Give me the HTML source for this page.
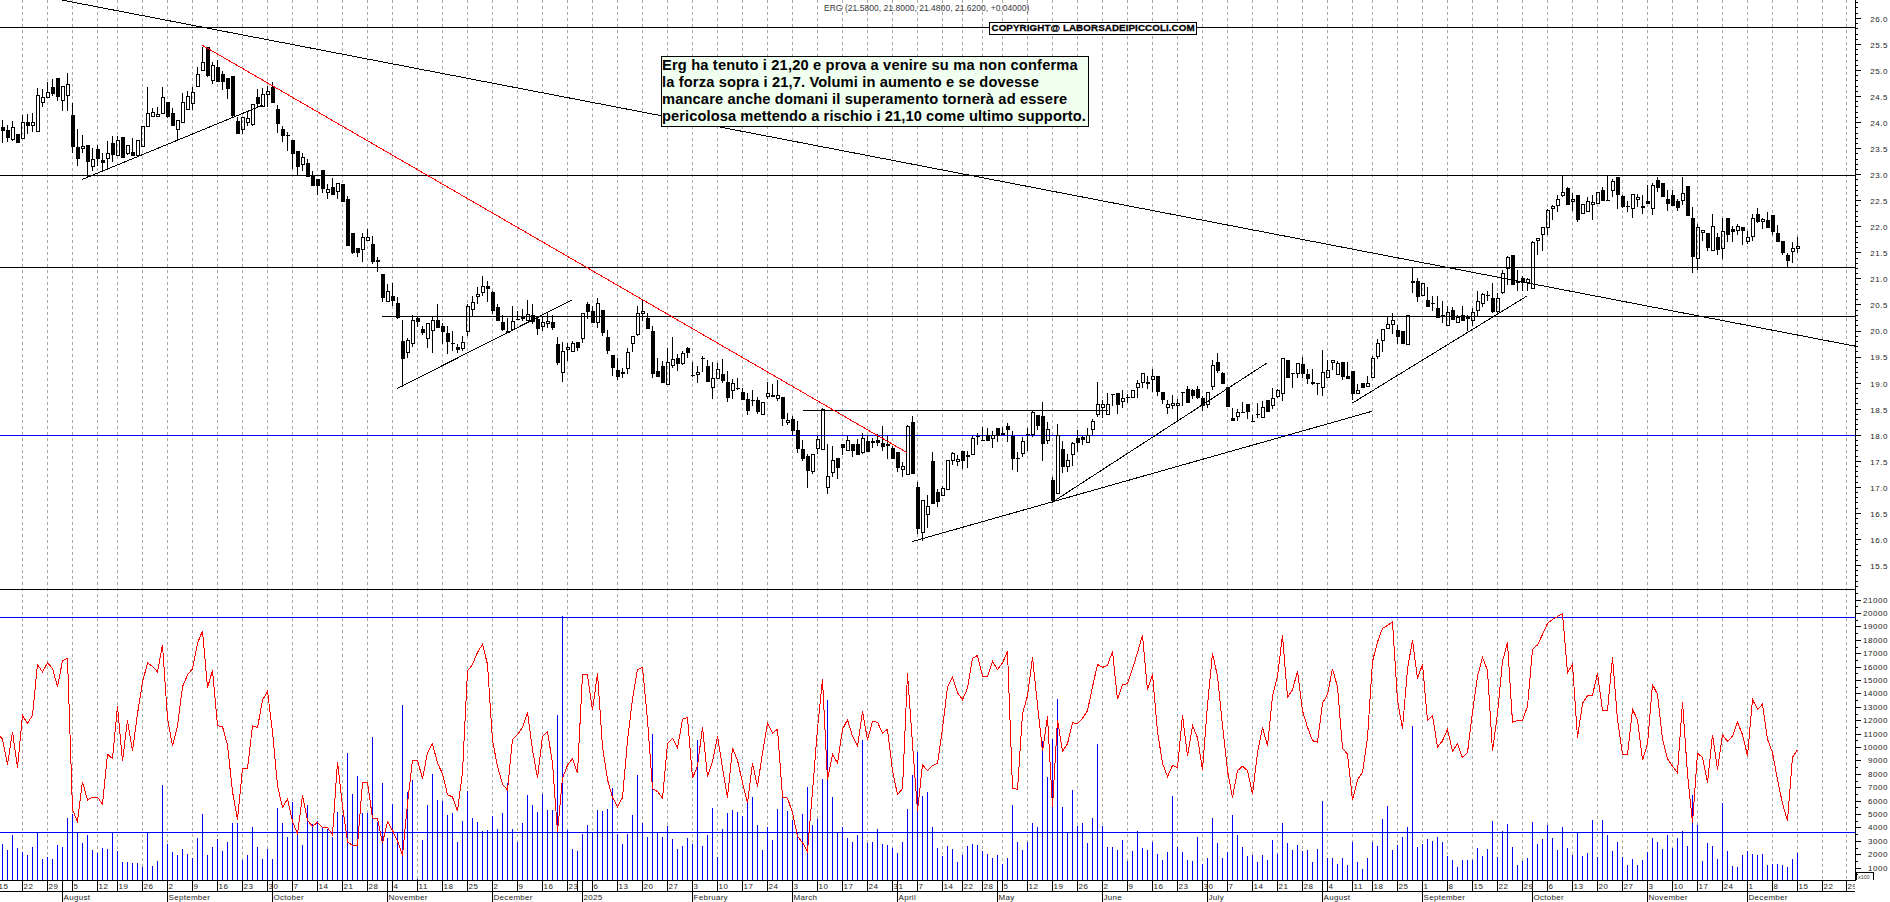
<!DOCTYPE html>
<html><head><meta charset="utf-8"><title>ERG</title>
<style>
html,body{margin:0;padding:0;background:#fff;}
body{width:1890px;height:902px;position:relative;overflow:hidden;font-family:"Liberation Sans",sans-serif;}
#title{position:absolute;left:824px;top:2.5px;font-size:8.5px;line-height:10px;color:#383838;white-space:nowrap;letter-spacing:0.03px;}
#copy{position:absolute;left:989px;top:22px;width:204.5px;height:11px;border:1px solid #000;background:#fff;font-size:9.8px;line-height:11px;font-weight:bold;color:#000;white-space:nowrap;letter-spacing:0.08px;padding-left:1.5px;box-sizing:content-box;overflow:hidden;-webkit-text-stroke:0.3px #000;}
#note{position:absolute;left:661px;top:56px;width:426px;height:69px;border:1px solid #000;background:#f0fff0;font-size:14.67px;line-height:17.15px;font-weight:bold;color:#000;white-space:nowrap;padding:0;box-sizing:content-box;overflow:hidden;}
#l1{letter-spacing:0.165px}#l2{letter-spacing:0.14px}#l3{letter-spacing:0.147px}#l4{letter-spacing:0.09px}#nw{margin-top:0px}#cs{position:relative;top:-1px}
</style></head><body>
<svg width="1890" height="902" viewBox="0 0 1890 902" style="position:absolute;left:0;top:0">
<defs><clipPath id="cl"><rect x="0" y="880" width="1855" height="22"/></clipPath></defs>
<rect width="1890" height="902" fill="#fff"/>
<g stroke="#a8a8a8" stroke-width="1" stroke-dasharray="3 3" shape-rendering="crispEdges">
<line x1="22.5" y1="0" x2="22.5" y2="880"/>
<line x1="47.5" y1="0" x2="47.5" y2="880"/>
<line x1="72.5" y1="0" x2="72.5" y2="880"/>
<line x1="97.5" y1="0" x2="97.5" y2="880"/>
<line x1="117.5" y1="0" x2="117.5" y2="880"/>
<line x1="142.5" y1="0" x2="142.5" y2="880"/>
<line x1="167.5" y1="0" x2="167.5" y2="880"/>
<line x1="192.5" y1="0" x2="192.5" y2="880"/>
<line x1="217.5" y1="0" x2="217.5" y2="880"/>
<line x1="242.5" y1="0" x2="242.5" y2="880"/>
<line x1="267.5" y1="0" x2="267.5" y2="880"/>
<line x1="292.5" y1="0" x2="292.5" y2="880"/>
<line x1="317.5" y1="0" x2="317.5" y2="880"/>
<line x1="342.5" y1="0" x2="342.5" y2="880"/>
<line x1="367.5" y1="0" x2="367.5" y2="880"/>
<line x1="392.5" y1="0" x2="392.5" y2="880"/>
<line x1="417.5" y1="0" x2="417.5" y2="880"/>
<line x1="442.5" y1="0" x2="442.5" y2="880"/>
<line x1="467.5" y1="0" x2="467.5" y2="880"/>
<line x1="492.5" y1="0" x2="492.5" y2="880"/>
<line x1="517.5" y1="0" x2="517.5" y2="880"/>
<line x1="542.5" y1="0" x2="542.5" y2="880"/>
<line x1="567.5" y1="0" x2="567.5" y2="880"/>
<line x1="592.5" y1="0" x2="592.5" y2="880"/>
<line x1="617.5" y1="0" x2="617.5" y2="880"/>
<line x1="642.5" y1="0" x2="642.5" y2="880"/>
<line x1="667.5" y1="0" x2="667.5" y2="880"/>
<line x1="692.5" y1="0" x2="692.5" y2="880"/>
<line x1="717.5" y1="0" x2="717.5" y2="880"/>
<line x1="742.5" y1="0" x2="742.5" y2="880"/>
<line x1="767.5" y1="0" x2="767.5" y2="880"/>
<line x1="792.5" y1="0" x2="792.5" y2="880"/>
<line x1="817.5" y1="0" x2="817.5" y2="880"/>
<line x1="842.5" y1="0" x2="842.5" y2="880"/>
<line x1="867.5" y1="0" x2="867.5" y2="880"/>
<line x1="892.5" y1="0" x2="892.5" y2="880"/>
<line x1="917.5" y1="0" x2="917.5" y2="880"/>
<line x1="942.5" y1="0" x2="942.5" y2="880"/>
<line x1="962.5" y1="0" x2="962.5" y2="880"/>
<line x1="982.5" y1="0" x2="982.5" y2="880"/>
<line x1="1002.5" y1="0" x2="1002.5" y2="880"/>
<line x1="1027.5" y1="0" x2="1027.5" y2="880"/>
<line x1="1052.5" y1="0" x2="1052.5" y2="880"/>
<line x1="1077.5" y1="0" x2="1077.5" y2="880"/>
<line x1="1102.5" y1="0" x2="1102.5" y2="880"/>
<line x1="1127.5" y1="0" x2="1127.5" y2="880"/>
<line x1="1152.5" y1="0" x2="1152.5" y2="880"/>
<line x1="1177.5" y1="0" x2="1177.5" y2="880"/>
<line x1="1202.5" y1="0" x2="1202.5" y2="880"/>
<line x1="1227.5" y1="0" x2="1227.5" y2="880"/>
<line x1="1252.5" y1="0" x2="1252.5" y2="880"/>
<line x1="1277.5" y1="0" x2="1277.5" y2="880"/>
<line x1="1302.5" y1="0" x2="1302.5" y2="880"/>
<line x1="1327.5" y1="0" x2="1327.5" y2="880"/>
<line x1="1352.5" y1="0" x2="1352.5" y2="880"/>
<line x1="1372.5" y1="0" x2="1372.5" y2="880"/>
<line x1="1397.5" y1="0" x2="1397.5" y2="880"/>
<line x1="1422.5" y1="0" x2="1422.5" y2="880"/>
<line x1="1447.5" y1="0" x2="1447.5" y2="880"/>
<line x1="1472.5" y1="0" x2="1472.5" y2="880"/>
<line x1="1497.5" y1="0" x2="1497.5" y2="880"/>
<line x1="1522.5" y1="0" x2="1522.5" y2="880"/>
<line x1="1547.5" y1="0" x2="1547.5" y2="880"/>
<line x1="1572.5" y1="0" x2="1572.5" y2="880"/>
<line x1="1597.5" y1="0" x2="1597.5" y2="880"/>
<line x1="1622.5" y1="0" x2="1622.5" y2="880"/>
<line x1="1647.5" y1="0" x2="1647.5" y2="880"/>
<line x1="1672.5" y1="0" x2="1672.5" y2="880"/>
<line x1="1697.5" y1="0" x2="1697.5" y2="880"/>
<line x1="1722.5" y1="0" x2="1722.5" y2="880"/>
<line x1="1747.5" y1="0" x2="1747.5" y2="880"/>
<line x1="1772.5" y1="0" x2="1772.5" y2="880"/>
<line x1="1797.5" y1="0" x2="1797.5" y2="880"/>
<line x1="1822.5" y1="0" x2="1822.5" y2="880"/>
<line x1="1846.5" y1="0" x2="1846.5" y2="880"/>
</g>
<g stroke="#000" stroke-width="1" shape-rendering="crispEdges">
<line x1="0" y1="27.5" x2="1855" y2="27.5"/>
<line x1="0" y1="175.5" x2="1855" y2="175.5"/>
<line x1="0" y1="267.5" x2="1855" y2="267.5"/>
<line x1="382" y1="316.5" x2="1855" y2="316.5"/>
<line x1="803" y1="410.5" x2="1108" y2="410.5"/>
<line x1="0" y1="589.5" x2="1855" y2="589.5"/>
</g>
<g stroke="#00f" stroke-width="1" shape-rendering="crispEdges">
<line x1="0" y1="435.5" x2="1855" y2="435.5"/>
<line x1="0" y1="617.5" x2="1855" y2="617.5"/>
<line x1="0" y1="832.5" x2="1855" y2="832.5"/>
</g>
<path d="M2.5 844V880M7.5 850V880M12.5 835V880M17.5 848V880M22.5 852V880M27.5 855V880M32.5 847V880M37.5 832V880M42.5 859V880M47.5 857V880M52.5 859V880M57.5 845V880M62.5 847V880M67.5 818V880M72.5 814V880M77.5 832V880M82.5 843V880M87.5 835V880M92.5 850V880M97.5 853V880M102.5 848V880M107.5 849V880M112.5 832V880M117.5 851V880M122.5 862V880M127.5 862V880M132.5 863V880M137.5 863V880M142.5 867V880M147.5 832V880M152.5 866V880M157.5 861V880M162.5 785V880M167.5 844V880M172.5 852V880M177.5 855V880M182.5 849V880M187.5 854V880M192.5 858V880M197.5 838V880M202.5 814V880M207.5 855V880M212.5 847V880M217.5 839V880M222.5 851V880M227.5 842V880M232.5 823V880M237.5 823V880M242.5 860V880M247.5 855V880M252.5 827V880M257.5 847V880M262.5 859V880M267.5 849V880M272.5 859V880M277.5 808V880M282.5 823V880M287.5 837V880M292.5 802V880M297.5 834V880M302.5 845V880M307.5 805V880M312.5 824V880M317.5 821V880M322.5 828V880M327.5 829V880M332.5 837V880M337.5 812V880M342.5 815V880M347.5 753V880M352.5 794V880M357.5 776V880M362.5 813V880M367.5 813V880M372.5 737V880M377.5 822V880M382.5 783V880M387.5 838V880M392.5 804V880M397.5 832V880M402.5 705V880M407.5 792V880M412.5 780V880M417.5 879V880M422.5 840V880M427.5 805V880M432.5 774V880M437.5 800V880M442.5 801V880M447.5 815V880M452.5 813V880M457.5 842V880M462.5 821V880M467.5 791V880M472.5 818V880M477.5 822V880M482.5 831V880M487.5 830V880M492.5 816V880M497.5 829V880M502.5 813V880M507.5 783V880M512.5 829V880M517.5 842V880M522.5 823V880M527.5 795V880M532.5 805V880M537.5 812V880M542.5 794V880M547.5 810V880M552.5 810V880M557.5 715V880M562.5 616V880M567.5 830V880M572.5 849V880M577.5 851V880M582.5 834V880M587.5 825V880M592.5 832V880M597.5 810V880M602.5 811V880M607.5 809V880M612.5 788V880M617.5 834V880M622.5 844V880M627.5 834V880M632.5 815V880M637.5 775V880M642.5 823V880M647.5 837V880M652.5 734V880M657.5 832V880M662.5 837V880M667.5 826V880M672.5 839V880M677.5 849V880M682.5 846V880M687.5 838V880M692.5 844V880M697.5 740V880M702.5 846V880M707.5 835V880M712.5 808V880M717.5 857V880M722.5 829V880M727.5 813V880M732.5 810V880M737.5 812V880M742.5 816V880M747.5 802V880M752.5 797V880M757.5 825V880M762.5 850V880M767.5 827V880M772.5 840V880M777.5 809V880M782.5 792V880M787.5 811V880M792.5 820V880M797.5 832V880M802.5 814V880M807.5 787V880M812.5 825V880M817.5 819V880M822.5 779V880M827.5 700V880M832.5 797V880M837.5 832V880M842.5 827V880M847.5 838V880M852.5 842V880M857.5 835V880M862.5 740V880M867.5 843V880M872.5 842V880M877.5 829V880M882.5 844V880M887.5 845V880M892.5 848V880M897.5 853V880M902.5 842V880M907.5 809V880M912.5 775V880M917.5 752V880M922.5 796V880M927.5 792V880M932.5 827V880M937.5 848V880M942.5 856V880M947.5 846V880M952.5 849V880M957.5 862V880M962.5 855V880M967.5 846V880M972.5 844V880M977.5 845V880M982.5 851V880M987.5 854V880M992.5 858V880M997.5 855V880M1002.5 864V880M1007.5 858V880M1012.5 805V880M1017.5 842V880M1022.5 850V880M1027.5 842V880M1032.5 823V880M1037.5 827V880M1042.5 741V880M1047.5 777V880M1052.5 739V880M1057.5 699V880M1062.5 807V880M1067.5 832V880M1072.5 790V880M1077.5 826V880M1082.5 823V880M1087.5 843V880M1092.5 818V880M1097.5 744V880M1102.5 826V880M1107.5 847V880M1112.5 847V880M1117.5 850V880M1122.5 840V880M1127.5 861V880M1132.5 851V880M1137.5 831V880M1142.5 848V880M1147.5 850V880M1152.5 842V880M1157.5 854V880M1162.5 860V880M1167.5 852V880M1172.5 796V880M1177.5 847V880M1182.5 852V880M1187.5 860V880M1192.5 861V880M1197.5 837V880M1202.5 864V880M1207.5 858V880M1212.5 818V880M1217.5 843V880M1222.5 858V880M1227.5 852V880M1232.5 815V880M1237.5 835V880M1242.5 847V880M1247.5 856V880M1252.5 855V880M1257.5 862V880M1262.5 855V880M1267.5 860V880M1272.5 840V880M1277.5 854V880M1282.5 823V880M1287.5 843V880M1292.5 850V880M1297.5 845V880M1302.5 851V880M1307.5 850V880M1312.5 862V880M1317.5 849V880M1322.5 801V880M1327.5 858V880M1332.5 858V880M1337.5 864V880M1342.5 858V880M1347.5 865V880M1352.5 842V880M1357.5 862V880M1362.5 869V880M1367.5 858V880M1372.5 842V880M1377.5 846V880M1382.5 819V880M1387.5 806V880M1392.5 850V880M1397.5 845V880M1402.5 837V880M1407.5 827V880M1412.5 726V880M1417.5 847V880M1422.5 844V880M1427.5 839V880M1432.5 841V880M1437.5 837V880M1442.5 842V880M1447.5 856V880M1452.5 860V880M1457.5 867V880M1462.5 860V880M1467.5 860V880M1472.5 860V880M1477.5 848V880M1482.5 856V880M1487.5 849V880M1492.5 821V880M1497.5 857V880M1502.5 831V880M1507.5 824V880M1512.5 847V880M1517.5 865V880M1522.5 861V880M1527.5 858V880M1532.5 822V880M1537.5 844V880M1542.5 839V880M1547.5 825V880M1552.5 838V880M1557.5 850V880M1562.5 827V880M1567.5 848V880M1572.5 855V880M1577.5 832V880M1582.5 856V880M1587.5 853V880M1592.5 820V880M1597.5 857V880M1602.5 820V880M1607.5 835V880M1612.5 851V880M1617.5 842V880M1622.5 857V880M1627.5 865V880M1632.5 859V880M1637.5 865V880M1642.5 860V880M1647.5 852V880M1652.5 838V880M1657.5 842V880M1662.5 849V880M1667.5 835V880M1672.5 848V880M1677.5 838V880M1682.5 831V880M1687.5 846V880M1692.5 795V880M1697.5 825V880M1702.5 861V880M1707.5 843V880M1712.5 846V880M1717.5 859V880M1722.5 803V880M1727.5 851V880M1732.5 866V880M1737.5 867V880M1742.5 855V880M1747.5 851V880M1752.5 854V880M1757.5 855V880M1762.5 854V880M1767.5 865V880M1772.5 864V880M1777.5 864V880M1782.5 865V880M1787.5 867V880M1792.5 859V880M1797.5 853V880" stroke="#00f" stroke-width="1" fill="none" shape-rendering="crispEdges"/>
<path d="M2.5 120V143M7.5 125V142M12.5 121V127M12.5 140V141M17.5 134V143M22.5 115V122M27.5 114V134M32.5 113V122M32.5 126V132M37.5 88V95M42.5 89V97M42.5 103V107M47.5 82V92M52.5 79V96M57.5 78V101M62.5 101V111M67.5 73V84M67.5 96V111M72.5 103V153M77.5 129V166M82.5 135V146M82.5 149V153M87.5 145V178M92.5 148V159M92.5 167V171M97.5 145V166M102.5 153V171M107.5 141V153M107.5 159V169M112.5 136V162M117.5 136V140M122.5 137V158M127.5 154V155M132.5 138V156M147.5 87V113M152.5 108V112M157.5 107V114M162.5 87V97M167.5 102V118M172.5 108V126M177.5 130V141M182.5 93V102M187.5 91V96M192.5 87V92M192.5 104V110M197.5 67V74M202.5 47V62M207.5 47V77M212.5 62V65M212.5 81V84M217.5 60V82M222.5 71V90M227.5 78V99M232.5 76V118M237.5 117V134M242.5 130V134M247.5 111V118M247.5 123V126M252.5 125V126M257.5 89V107M262.5 88V94M267.5 86V91M267.5 95V107M272.5 82V103M277.5 105V133M282.5 126V142M287.5 132V151M292.5 140V169M297.5 151V175M302.5 153V157M302.5 165V171M307.5 159V177M312.5 171V186M317.5 179V195M322.5 170V193M327.5 184V189M327.5 193V199M332.5 178V195M337.5 192V199M342.5 184V202M347.5 196V246M352.5 233V254M357.5 248V257M362.5 233V237M362.5 250V262M367.5 229V237M372.5 236V264M377.5 257V272M382.5 274V302M387.5 284V291M392.5 283V306M397.5 297V319M402.5 320V387M407.5 338V340M407.5 353V358M412.5 315V320M412.5 344V347M417.5 316V327M422.5 326V335M427.5 339V348M432.5 317V320M432.5 331V353M437.5 304V328M442.5 323V344M447.5 326V354M452.5 331V351M457.5 344V353M462.5 336V342M462.5 349V351M467.5 304V306M467.5 332V336M472.5 296V302M472.5 310V316M477.5 287V294M477.5 297V304M482.5 276V286M482.5 293V296M487.5 281V302M492.5 291V314M497.5 304V321M502.5 315V331M507.5 318V333M512.5 306V321M517.5 311V320M522.5 309V321M527.5 300V314M532.5 304V324M537.5 318V335M542.5 316V322M542.5 327V331M547.5 312V321M547.5 324V328M552.5 315V330M557.5 337V365M562.5 342V351M562.5 373V382M567.5 343V347M567.5 350V361M572.5 341V343M577.5 342V351M582.5 339V343M587.5 302V319M592.5 306V323M597.5 298V303M597.5 323V328M602.5 310V336M607.5 330V354M612.5 355V376M617.5 358V380M622.5 368V378M627.5 348V352M627.5 369V374M632.5 344V352M637.5 306V313M637.5 335V336M642.5 300V311M642.5 314V321M647.5 313V329M652.5 326V378M657.5 358V377M662.5 361V383M667.5 348V362M672.5 337V359M672.5 366V368M677.5 354V371M682.5 351V353M682.5 364V365M687.5 347V358M692.5 362V377M697.5 366V372M697.5 375V383M702.5 356V372M707.5 360V382M712.5 362V378M712.5 388V399M717.5 363V369M722.5 359V383M727.5 371V402M732.5 379V383M732.5 391V399M737.5 378V390M742.5 388V400M747.5 393V415M752.5 390V406M757.5 397V414M767.5 382V393M767.5 397V399M772.5 384V397M777.5 380V395M777.5 399V401M782.5 397V426M787.5 413V420M787.5 423V425M792.5 416V435M797.5 421V453M802.5 440V461M807.5 454V488M812.5 472V474M817.5 436V439M817.5 449V454M822.5 408V409M827.5 444V476M827.5 488V494M832.5 446V460M832.5 473V477M837.5 458V479M842.5 444V455M847.5 436V440M852.5 444V457M857.5 439V455M862.5 433V438M862.5 453V454M867.5 435V452M872.5 438V448M877.5 434V446M882.5 426V451M887.5 436V459M892.5 446V459M897.5 452V472M902.5 462V466M902.5 470V477M907.5 425V426M912.5 416V474M917.5 482V534M922.5 533V541M927.5 495V506M927.5 515V528M932.5 452V504M937.5 489V507M942.5 486V488M952.5 452V453M952.5 461V465M957.5 455V459M957.5 462V466M962.5 451V469M967.5 451V468M972.5 436V438M977.5 433V445M982.5 427V441M987.5 428V441M992.5 431V435M992.5 439V448M997.5 428V442M1002.5 427V435M1007.5 423V442M1012.5 431V470M1017.5 452V472M1022.5 437V441M1022.5 454V457M1027.5 428V451M1032.5 410V412M1032.5 435V437M1037.5 415V430M1042.5 402V461M1047.5 422V429M1047.5 441V444M1052.5 477V502M1057.5 424V435M1062.5 441V473M1067.5 454V460M1067.5 467V472M1072.5 442V443M1072.5 455V466M1077.5 430V452M1082.5 436V445M1087.5 428V435M1092.5 419V421M1092.5 430V435M1097.5 382V404M1097.5 415V417M1102.5 400V404M1102.5 408V418M1107.5 393V404M1112.5 394V406M1117.5 393V414M1122.5 390V398M1122.5 402V408M1127.5 394V403M1137.5 380V383M1137.5 388V398M1142.5 383V388M1147.5 376V389M1152.5 369V376M1152.5 380V392M1157.5 376V396M1162.5 392V404M1167.5 400V404M1167.5 408V414M1172.5 395V403M1172.5 406V409M1177.5 399V403M1177.5 406V421M1182.5 392V406M1187.5 386V403M1192.5 389V399M1197.5 386V399M1202.5 396V411M1207.5 405V408M1212.5 360V365M1212.5 387V390M1217.5 353V373M1222.5 372V384M1227.5 387V407M1232.5 408V421M1237.5 409V412M1237.5 417V421M1242.5 402V412M1247.5 404V419M1252.5 415V422M1257.5 403V418M1262.5 401V407M1267.5 400V412M1272.5 388V398M1272.5 406V409M1277.5 389V390M1277.5 397V398M1282.5 394V401M1287.5 360V378M1292.5 373V388M1297.5 374V378M1302.5 357V378M1307.5 369V384M1312.5 369V385M1317.5 383V395M1322.5 350V372M1322.5 388V396M1327.5 360V370M1332.5 363V370M1337.5 361V363M1342.5 362V380M1347.5 362V379M1352.5 371V400M1357.5 384V390M1362.5 383V388M1367.5 376V383M1372.5 356V358M1377.5 339V343M1377.5 357V359M1382.5 341V352M1387.5 316V324M1392.5 313V320M1392.5 325V334M1397.5 325V344M1402.5 331V344M1412.5 268V293M1417.5 278V302M1427.5 287V307M1432.5 296V311M1437.5 296V318M1442.5 301V323M1447.5 306V312M1452.5 307V320M1457.5 315V317M1462.5 306V321M1467.5 315V331M1472.5 308V312M1472.5 321V326M1477.5 291V301M1477.5 311V317M1482.5 293V294M1482.5 304V307M1487.5 291V301M1492.5 283V313M1497.5 293V298M1497.5 312V313M1502.5 270V273M1502.5 293V294M1507.5 256V257M1507.5 269V285M1512.5 255V285M1517.5 270V291M1522.5 276V291M1527.5 278V279M1527.5 283V291M1532.5 241V242M1537.5 241V255M1542.5 235V251M1547.5 209V210M1547.5 228V235M1552.5 205V206M1552.5 209V220M1557.5 195V199M1557.5 206V212M1562.5 175V192M1562.5 196V197M1567.5 187V205M1572.5 193V199M1572.5 202V211M1577.5 195V222M1587.5 197V201M1592.5 195V202M1592.5 205V220M1602.5 187V201M1607.5 175V201M1612.5 179V181M1612.5 191V197M1617.5 177V209M1622.5 195V208M1627.5 201V212M1632.5 209V218M1637.5 194V197M1637.5 200V207M1642.5 195V214M1647.5 185V204M1652.5 183V185M1652.5 209V215M1657.5 177V192M1662.5 183V197M1667.5 190V211M1672.5 190V206M1677.5 199V211M1682.5 177V193M1682.5 201V205M1687.5 186V216M1692.5 207V273M1697.5 224V227M1697.5 259V270M1702.5 233V241M1707.5 233V251M1712.5 214V226M1717.5 233V255M1722.5 218V231M1722.5 249V259M1727.5 218V242M1732.5 226V242M1737.5 224V226M1737.5 231V235M1742.5 227V245M1747.5 231V237M1747.5 242V244M1752.5 214V218M1752.5 237V241M1757.5 208V223M1762.5 218V219M1762.5 222V229M1767.5 212V228M1772.5 215V235M1777.5 225V242M1782.5 241V255M1787.5 253V267M1792.5 242V248M1792.5 252V263M1797.5 237V246M1797.5 249V253" stroke="#000" stroke-width="1" fill="none" shape-rendering="crispEdges"/>
<path d="M11.5 127.5h3V139.5h-3zM21.5 122.5h3V138.5h-3zM31.5 122.5h3V125.5h-3zM36.5 95.5h3V131.5h-3zM41.5 97.5h3V102.5h-3zM46.5 92.5h3V97.5h-3zM61.5 86.5h3V100.5h-3zM66.5 84.5h3V95.5h-3zM81.5 146.5h3V148.5h-3zM91.5 159.5h3V166.5h-3zM106.5 153.5h3V158.5h-3zM116.5 140.5h3V155.5h-3zM126.5 145.5h3V153.5h-3zM136.5 140.5h3V155.5h-3zM141.5 126.5h3V146.5h-3zM146.5 113.5h3V126.5h-3zM151.5 112.5h3V116.5h-3zM156.5 114.5h3V116.5h-3zM161.5 97.5h3V113.5h-3zM176.5 120.5h3V129.5h-3zM181.5 102.5h3V122.5h-3zM186.5 96.5h3V109.5h-3zM191.5 92.5h3V103.5h-3zM196.5 74.5h3V86.5h-3zM201.5 62.5h3V70.5h-3zM211.5 65.5h3V80.5h-3zM241.5 117.5h3V129.5h-3zM246.5 118.5h3V122.5h-3zM251.5 104.5h3V124.5h-3zM261.5 94.5h3V106.5h-3zM266.5 91.5h3V94.5h-3zM301.5 157.5h3V164.5h-3zM326.5 189.5h3V192.5h-3zM336.5 183.5h3V191.5h-3zM361.5 237.5h3V249.5h-3zM366.5 237.5h3V240.5h-3zM386.5 291.5h3V301.5h-3zM406.5 340.5h3V352.5h-3zM411.5 320.5h3V343.5h-3zM426.5 323.5h3V338.5h-3zM431.5 320.5h3V330.5h-3zM461.5 342.5h3V348.5h-3zM466.5 306.5h3V331.5h-3zM471.5 302.5h3V309.5h-3zM476.5 294.5h3V296.5h-3zM481.5 286.5h3V292.5h-3zM511.5 321.5h3V329.5h-3zM526.5 314.5h3V320.5h-3zM541.5 322.5h3V326.5h-3zM546.5 321.5h3V323.5h-3zM561.5 351.5h3V372.5h-3zM566.5 347.5h3V349.5h-3zM571.5 343.5h3V351.5h-3zM581.5 313.5h3V338.5h-3zM596.5 303.5h3V322.5h-3zM626.5 352.5h3V368.5h-3zM631.5 336.5h3V343.5h-3zM636.5 313.5h3V334.5h-3zM641.5 311.5h3V313.5h-3zM666.5 362.5h3V384.5h-3zM671.5 359.5h3V365.5h-3zM681.5 353.5h3V363.5h-3zM696.5 372.5h3V374.5h-3zM711.5 378.5h3V387.5h-3zM716.5 369.5h3V378.5h-3zM731.5 383.5h3V390.5h-3zM761.5 402.5h3V414.5h-3zM766.5 393.5h3V396.5h-3zM776.5 395.5h3V398.5h-3zM786.5 420.5h3V422.5h-3zM811.5 454.5h3V471.5h-3zM816.5 439.5h3V448.5h-3zM821.5 409.5h3V449.5h-3zM826.5 476.5h3V487.5h-3zM831.5 460.5h3V472.5h-3zM846.5 440.5h3V450.5h-3zM861.5 438.5h3V452.5h-3zM901.5 466.5h3V469.5h-3zM906.5 426.5h3V474.5h-3zM921.5 500.5h3V532.5h-3zM926.5 506.5h3V514.5h-3zM941.5 488.5h3V495.5h-3zM946.5 460.5h3V489.5h-3zM951.5 453.5h3V460.5h-3zM956.5 459.5h3V461.5h-3zM971.5 438.5h3V454.5h-3zM991.5 435.5h3V438.5h-3zM1021.5 441.5h3V453.5h-3zM1031.5 412.5h3V434.5h-3zM1046.5 429.5h3V440.5h-3zM1056.5 435.5h3V493.5h-3zM1066.5 460.5h3V466.5h-3zM1071.5 443.5h3V454.5h-3zM1086.5 435.5h3V442.5h-3zM1091.5 421.5h3V429.5h-3zM1096.5 404.5h3V414.5h-3zM1101.5 404.5h3V407.5h-3zM1106.5 404.5h3V414.5h-3zM1121.5 398.5h3V401.5h-3zM1131.5 390.5h3V397.5h-3zM1136.5 383.5h3V387.5h-3zM1141.5 373.5h3V382.5h-3zM1151.5 376.5h3V379.5h-3zM1166.5 404.5h3V407.5h-3zM1171.5 403.5h3V405.5h-3zM1176.5 403.5h3V405.5h-3zM1206.5 392.5h3V404.5h-3zM1211.5 365.5h3V386.5h-3zM1236.5 412.5h3V416.5h-3zM1261.5 407.5h3V417.5h-3zM1271.5 398.5h3V405.5h-3zM1276.5 390.5h3V396.5h-3zM1281.5 358.5h3V393.5h-3zM1296.5 363.5h3V373.5h-3zM1321.5 372.5h3V387.5h-3zM1326.5 370.5h3V377.5h-3zM1331.5 360.5h3V362.5h-3zM1336.5 363.5h3V374.5h-3zM1356.5 390.5h3V393.5h-3zM1366.5 383.5h3V386.5h-3zM1371.5 358.5h3V377.5h-3zM1376.5 343.5h3V356.5h-3zM1381.5 329.5h3V340.5h-3zM1386.5 324.5h3V328.5h-3zM1391.5 320.5h3V324.5h-3zM1406.5 315.5h3V344.5h-3zM1421.5 283.5h3V295.5h-3zM1446.5 312.5h3V325.5h-3zM1456.5 317.5h3V322.5h-3zM1471.5 312.5h3V320.5h-3zM1476.5 301.5h3V310.5h-3zM1481.5 294.5h3V303.5h-3zM1496.5 298.5h3V311.5h-3zM1501.5 273.5h3V292.5h-3zM1506.5 257.5h3V268.5h-3zM1526.5 279.5h3V282.5h-3zM1531.5 242.5h3V288.5h-3zM1536.5 238.5h3V240.5h-3zM1541.5 227.5h3V234.5h-3zM1546.5 210.5h3V227.5h-3zM1551.5 206.5h3V208.5h-3zM1556.5 199.5h3V205.5h-3zM1561.5 192.5h3V195.5h-3zM1571.5 199.5h3V201.5h-3zM1581.5 204.5h3V213.5h-3zM1586.5 201.5h3V211.5h-3zM1591.5 202.5h3V204.5h-3zM1596.5 192.5h3V203.5h-3zM1611.5 181.5h3V190.5h-3zM1631.5 194.5h3V208.5h-3zM1636.5 197.5h3V199.5h-3zM1651.5 185.5h3V208.5h-3zM1681.5 193.5h3V200.5h-3zM1696.5 227.5h3V258.5h-3zM1701.5 230.5h3V232.5h-3zM1711.5 226.5h3V250.5h-3zM1721.5 231.5h3V248.5h-3zM1736.5 226.5h3V230.5h-3zM1746.5 237.5h3V241.5h-3zM1751.5 218.5h3V236.5h-3zM1761.5 219.5h3V221.5h-3zM1791.5 248.5h3V251.5h-3zM1796.5 246.5h3V248.5h-3z" stroke="#000" stroke-width="1" fill="none" shape-rendering="crispEdges"/>
<path d="M1 127h4V131h-4zM6 130h4V138h-4zM16 134h4V143h-4zM26 122h4V126h-4zM51 87h4V94h-4zM56 78h4V97h-4zM71 115h4V147h-4zM76 147h4V159h-4zM86 145h4V162h-4zM96 149h4V159h-4zM101 160h4V163h-4zM111 143h4V155h-4zM121 137h4V158h-4zM131 152h4V156h-4zM166 102h4V117h-4zM171 113h4V126h-4zM206 47h4V76h-4zM216 67h4V82h-4zM221 74h4V82h-4zM226 78h4V89h-4zM231 76h4V116h-4zM236 121h4V134h-4zM256 97h4V104h-4zM271 87h4V103h-4zM276 109h4V124h-4zM281 129h4V136h-4zM286 135h4V136h-4zM291 140h4V154h-4zM296 151h4V167h-4zM306 163h4V177h-4zM311 176h4V186h-4zM316 179h4V186h-4zM321 170h4V189h-4zM331 187h4V195h-4zM341 184h4V202h-4zM346 199h4V246h-4zM351 233h4V253h-4zM356 248h4V253h-4zM371 244h4V262h-4zM376 260h4V262h-4zM381 274h4V298h-4zM391 296h4V301h-4zM396 303h4V318h-4zM401 341h4V359h-4zM416 318h4V322h-4zM421 329h4V333h-4zM436 320h4V328h-4zM441 326h4V332h-4zM446 333h4V342h-4zM451 343h4V344h-4zM456 347h4V350h-4zM486 286h4V289h-4zM491 292h4V311h-4zM496 307h4V321h-4zM501 322h4V330h-4zM506 331h4V333h-4zM516 319h4V320h-4zM521 317h4V319h-4zM531 315h4V322h-4zM536 319h4V329h-4zM551 322h4V328h-4zM556 344h4V363h-4zM576 342h4V348h-4zM586 304h4V312h-4zM591 311h4V323h-4zM601 310h4V333h-4zM606 337h4V351h-4zM611 355h4V368h-4zM616 370h4V377h-4zM621 372h4V374h-4zM646 318h4V329h-4zM651 331h4V374h-4zM656 371h4V377h-4zM661 366h4V383h-4zM676 358h4V364h-4zM686 348h4V353h-4zM691 375h4V376h-4zM701 358h4V359h-4zM706 366h4V382h-4zM721 374h4V381h-4zM726 382h4V398h-4zM736 388h4V389h-4zM741 392h4V400h-4zM746 399h4V411h-4zM751 400h4V401h-4zM756 400h4V412h-4zM771 395h4V397h-4zM781 397h4V419h-4zM791 419h4V431h-4zM796 430h4V449h-4zM801 449h4V459h-4zM806 456h4V471h-4zM836 458h4V468h-4zM841 444h4V448h-4zM851 444h4V451h-4zM856 444h4V455h-4zM866 441h4V452h-4zM871 441h4V443h-4zM876 440h4V443h-4zM881 443h4V447h-4zM886 444h4V446h-4zM891 448h4V459h-4zM896 452h4V468h-4zM911 422h4V474h-4zM916 487h4V529h-4zM931 461h4V504h-4zM936 492h4V502h-4zM961 451h4V461h-4zM966 455h4V457h-4zM976 436h4V437h-4zM981 440h4V441h-4zM986 435h4V441h-4zM996 428h4V436h-4zM1001 433h4V435h-4zM1006 426h4V430h-4zM1011 436h4V459h-4zM1016 458h4V459h-4zM1026 434h4V435h-4zM1036 415h4V426h-4zM1041 416h4V444h-4zM1051 480h4V501h-4zM1061 449h4V467h-4zM1076 438h4V443h-4zM1081 437h4V440h-4zM1111 394h4V395h-4zM1116 393h4V405h-4zM1126 397h4V398h-4zM1146 382h4V384h-4zM1156 376h4V392h-4zM1161 392h4V400h-4zM1181 392h4V393h-4zM1186 389h4V403h-4zM1191 390h4V396h-4zM1196 389h4V398h-4zM1201 398h4V406h-4zM1216 362h4V371h-4zM1221 373h4V384h-4zM1226 387h4V407h-4zM1231 418h4V421h-4zM1241 412h4V413h-4zM1246 404h4V412h-4zM1251 421h4V422h-4zM1256 414h4V415h-4zM1266 400h4V412h-4zM1286 360h4V378h-4zM1291 373h4V374h-4zM1301 364h4V374h-4zM1306 374h4V379h-4zM1311 382h4V384h-4zM1316 383h4V384h-4zM1341 362h4V377h-4zM1346 376h4V379h-4zM1351 371h4V394h-4zM1361 383h4V388h-4zM1396 330h4V337h-4zM1401 331h4V344h-4zM1411 281h4V283h-4zM1416 281h4V297h-4zM1426 300h4V307h-4zM1431 303h4V304h-4zM1436 308h4V318h-4zM1441 315h4V316h-4zM1451 310h4V320h-4zM1461 315h4V321h-4zM1466 316h4V319h-4zM1486 295h4V296h-4zM1491 298h4V312h-4zM1511 255h4V285h-4zM1516 281h4V283h-4zM1521 278h4V283h-4zM1566 188h4V205h-4zM1576 195h4V220h-4zM1601 190h4V201h-4zM1606 200h4V201h-4zM1616 177h4V195h-4zM1621 196h4V207h-4zM1626 206h4V207h-4zM1641 206h4V208h-4zM1646 201h4V204h-4zM1656 180h4V188h-4zM1661 183h4V197h-4zM1666 199h4V204h-4zM1671 195h4V206h-4zM1676 201h4V208h-4zM1686 186h4V216h-4zM1691 218h4V257h-4zM1706 233h4V248h-4zM1716 237h4V250h-4zM1726 218h4V235h-4zM1731 229h4V232h-4zM1741 227h4V231h-4zM1756 214h4V222h-4zM1766 220h4V228h-4zM1771 215h4V232h-4zM1776 233h4V242h-4zM1781 241h4V253h-4zM1786 255h4V261h-4z" fill="#000" shape-rendering="crispEdges"/>
<g stroke="#000" stroke-width="1" fill="none" shape-rendering="crispEdges">
<line x1="61.7" y1="0" x2="1855" y2="346.1069"/>
<line x1="82" y1="179.5" x2="263" y2="105"/>
<line x1="397" y1="388.6" x2="572" y2="300"/>
<line x1="1052" y1="502.4" x2="1267" y2="363"/>
<line x1="912" y1="541.6" x2="1372" y2="411.3"/>
<line x1="1352.5" y1="403" x2="1527" y2="296"/>
</g>
<line x1="202.4" y1="45.3" x2="907" y2="452.6" stroke="#f00" stroke-width="1" shape-rendering="crispEdges"/>
<polyline fill="none" stroke="#f00" stroke-width="1" shape-rendering="crispEdges" points="-2.5,733.0 2.5,739.2 7.5,764.7 12.5,731.7 17.5,767.7 22.5,715.3 27.5,723.4 32.5,715.3 37.5,664.4 42.5,671.9 47.5,662.9 52.5,668.3 57.5,686.8 62.5,660.8 67.5,658.4 72.5,809.6 77.5,821.6 82.5,781.7 87.5,800.0 92.5,797.0 97.5,797.0 102.5,804.5 107.5,754.2 112.5,758.7 117.5,706.3 122.5,760.8 127.5,720.4 132.5,751.2 137.5,713.8 142.5,682.3 147.5,662.9 152.5,666.5 157.5,671.9 162.5,644.9 167.5,718.3 172.5,745.8 177.5,725.7 182.5,686.8 187.5,674.9 192.5,668.9 197.5,643.4 202.5,630.8 207.5,687.7 212.5,670.4 217.5,725.7 222.5,726.6 227.5,745.2 232.5,791.6 237.5,819.5 242.5,768.6 247.5,768.6 252.5,725.7 257.5,727.8 262.5,700.3 267.5,691.3 272.5,731.7 277.5,785.6 282.5,807.5 287.5,799.1 292.5,821.6 297.5,834.1 302.5,795.5 307.5,820.1 312.5,826.6 317.5,822.2 322.5,827.5 327.5,827.5 332.5,835.0 337.5,761.7 342.5,806.6 347.5,841.9 352.5,845.5 357.5,845.5 362.5,782.6 367.5,782.6 372.5,818.0 377.5,818.6 382.5,843.1 387.5,821.6 392.5,830.5 397.5,841.0 402.5,855.4 407.5,803.6 412.5,760.2 417.5,760.2 422.5,778.7 427.5,752.7 432.5,743.7 437.5,763.2 442.5,773.7 447.5,794.6 452.5,797.0 457.5,811.1 462.5,772.2 467.5,671.0 472.5,664.4 477.5,652.4 482.5,644.3 487.5,664.4 492.5,740.7 497.5,766.2 502.5,784.1 507.5,790.1 512.5,739.2 517.5,734.7 522.5,727.2 527.5,712.3 532.5,749.7 537.5,778.1 542.5,736.2 547.5,731.7 552.5,763.2 557.5,832.0 562.5,778.1 567.5,765.3 572.5,758.7 577.5,772.8 582.5,674.9 587.5,674.9 592.5,710.2 597.5,673.4 602.5,746.7 607.5,779.6 612.5,797.6 617.5,806.6 622.5,797.6 627.5,740.7 632.5,698.8 637.5,669.5 642.5,667.4 647.5,719.8 652.5,788.6 657.5,791.6 662.5,798.2 667.5,743.7 672.5,738.3 677.5,748.2 682.5,719.2 687.5,717.4 692.5,778.1 697.5,766.2 702.5,727.2 707.5,776.6 712.5,761.7 717.5,736.2 722.5,767.7 727.5,797.6 732.5,748.2 737.5,760.2 742.5,782.6 747.5,803.0 752.5,763.2 757.5,786.5 762.5,752.7 767.5,722.8 772.5,733.2 777.5,729.3 782.5,797.0 787.5,798.2 792.5,812.6 797.5,836.5 802.5,842.5 807.5,851.5 812.5,791.6 817.5,728.7 822.5,679.3 827.5,779.6 832.5,754.2 837.5,763.2 842.5,729.3 847.5,719.8 852.5,736.2 857.5,746.1 862.5,711.4 867.5,740.1 872.5,721.3 877.5,722.2 882.5,733.2 887.5,729.3 892.5,770.7 897.5,794.6 902.5,788.6 907.5,673.4 912.5,743.7 917.5,811.1 922.5,764.7 927.5,770.7 932.5,765.6 937.5,763.2 942.5,728.7 947.5,686.8 952.5,677.2 957.5,692.8 962.5,699.7 967.5,688.3 972.5,658.4 977.5,655.4 982.5,676.3 987.5,676.3 992.5,661.4 997.5,669.5 1002.5,662.9 1007.5,651.5 1012.5,788.0 1017.5,789.5 1022.5,713.8 1027.5,695.8 1032.5,657.5 1037.5,704.8 1042.5,751.2 1047.5,716.2 1052.5,806.6 1057.5,719.8 1062.5,751.2 1067.5,743.7 1072.5,722.8 1077.5,723.4 1082.5,718.3 1087.5,710.8 1092.5,686.8 1097.5,664.4 1102.5,667.4 1107.5,665.3 1112.5,651.5 1117.5,699.4 1122.5,684.7 1127.5,683.8 1132.5,668.9 1137.5,652.4 1142.5,635.3 1147.5,689.8 1152.5,674.3 1157.5,731.7 1162.5,763.2 1167.5,776.6 1172.5,765.3 1177.5,767.7 1182.5,715.3 1187.5,756.3 1192.5,725.7 1197.5,737.7 1202.5,769.8 1207.5,704.8 1212.5,653.3 1217.5,676.3 1222.5,725.7 1227.5,770.7 1232.5,797.6 1237.5,770.7 1242.5,766.2 1247.5,770.7 1252.5,794.0 1257.5,752.7 1262.5,727.2 1267.5,745.8 1272.5,695.8 1277.5,676.3 1282.5,635.3 1287.5,697.3 1292.5,689.8 1297.5,671.3 1302.5,710.8 1307.5,727.2 1312.5,740.7 1317.5,742.2 1322.5,703.3 1327.5,694.3 1332.5,668.9 1337.5,686.8 1342.5,748.2 1347.5,754.2 1352.5,800.0 1357.5,779.6 1362.5,772.2 1367.5,737.7 1372.5,661.4 1377.5,641.9 1382.5,628.4 1387.5,625.4 1392.5,621.9 1397.5,700.3 1402.5,728.7 1407.5,668.9 1412.5,640.4 1417.5,678.4 1422.5,664.4 1427.5,720.4 1432.5,715.3 1437.5,747.3 1442.5,740.7 1447.5,729.3 1452.5,751.2 1457.5,743.7 1462.5,757.8 1467.5,752.7 1472.5,712.3 1477.5,676.3 1482.5,657.5 1487.5,670.4 1492.5,751.2 1497.5,713.8 1502.5,661.4 1507.5,642.5 1512.5,722.2 1517.5,720.4 1522.5,720.4 1527.5,706.3 1532.5,649.4 1537.5,644.9 1542.5,634.4 1547.5,623.4 1552.5,619.5 1557.5,616.5 1562.5,613.5 1567.5,672.8 1572.5,664.4 1577.5,737.7 1582.5,703.3 1587.5,695.8 1592.5,695.2 1597.5,673.4 1602.5,710.2 1607.5,710.2 1612.5,657.5 1617.5,719.8 1622.5,754.2 1627.5,754.2 1632.5,709.3 1637.5,719.8 1642.5,760.2 1647.5,743.7 1652.5,684.7 1657.5,694.3 1662.5,739.2 1667.5,758.7 1672.5,766.2 1677.5,772.8 1682.5,701.8 1687.5,773.7 1692.5,823.1 1697.5,753.3 1702.5,757.2 1707.5,782.6 1712.5,734.7 1717.5,769.8 1722.5,734.7 1727.5,741.3 1732.5,736.2 1737.5,722.2 1742.5,734.7 1747.5,755.7 1752.5,699.4 1757.5,709.3 1762.5,704.2 1767.5,739.2 1772.5,752.7 1777.5,779.6 1782.5,803.6 1787.5,820.7 1792.5,757.2 1797.5,749.7"/>
<g stroke="#000" stroke-width="1" shape-rendering="crispEdges">
<line x1="1855.5" y1="0" x2="1855.5" y2="881"/>
<line x1="0" y1="880.5" x2="1855" y2="880.5"/>
<line x1="0" y1="891.5" x2="1855" y2="891.5"/>
<line x1="22.5" y1="880" x2="22.5" y2="892"/>
<line x1="47.5" y1="880" x2="47.5" y2="892"/>
<line x1="72.5" y1="880" x2="72.5" y2="892"/>
<line x1="97.5" y1="880" x2="97.5" y2="892"/>
<line x1="117.5" y1="880" x2="117.5" y2="892"/>
<line x1="142.5" y1="880" x2="142.5" y2="892"/>
<line x1="167.5" y1="880" x2="167.5" y2="892"/>
<line x1="192.5" y1="880" x2="192.5" y2="892"/>
<line x1="217.5" y1="880" x2="217.5" y2="892"/>
<line x1="242.5" y1="880" x2="242.5" y2="892"/>
<line x1="267.5" y1="880" x2="267.5" y2="892"/>
<line x1="292.5" y1="880" x2="292.5" y2="892"/>
<line x1="317.5" y1="880" x2="317.5" y2="892"/>
<line x1="342.5" y1="880" x2="342.5" y2="892"/>
<line x1="367.5" y1="880" x2="367.5" y2="892"/>
<line x1="392.5" y1="880" x2="392.5" y2="892"/>
<line x1="417.5" y1="880" x2="417.5" y2="892"/>
<line x1="442.5" y1="880" x2="442.5" y2="892"/>
<line x1="467.5" y1="880" x2="467.5" y2="892"/>
<line x1="492.5" y1="880" x2="492.5" y2="892"/>
<line x1="517.5" y1="880" x2="517.5" y2="892"/>
<line x1="542.5" y1="880" x2="542.5" y2="892"/>
<line x1="567.5" y1="880" x2="567.5" y2="892"/>
<line x1="577.5" y1="880" x2="577.5" y2="892"/>
<line x1="592.5" y1="880" x2="592.5" y2="892"/>
<line x1="617.5" y1="880" x2="617.5" y2="892"/>
<line x1="642.5" y1="880" x2="642.5" y2="892"/>
<line x1="667.5" y1="880" x2="667.5" y2="892"/>
<line x1="692.5" y1="880" x2="692.5" y2="892"/>
<line x1="717.5" y1="880" x2="717.5" y2="892"/>
<line x1="742.5" y1="880" x2="742.5" y2="892"/>
<line x1="767.5" y1="880" x2="767.5" y2="892"/>
<line x1="792.5" y1="880" x2="792.5" y2="892"/>
<line x1="817.5" y1="880" x2="817.5" y2="892"/>
<line x1="842.5" y1="880" x2="842.5" y2="892"/>
<line x1="867.5" y1="880" x2="867.5" y2="892"/>
<line x1="892.5" y1="880" x2="892.5" y2="892"/>
<line x1="917.5" y1="880" x2="917.5" y2="892"/>
<line x1="942.5" y1="880" x2="942.5" y2="892"/>
<line x1="962.5" y1="880" x2="962.5" y2="892"/>
<line x1="982.5" y1="880" x2="982.5" y2="892"/>
<line x1="1002.5" y1="880" x2="1002.5" y2="892"/>
<line x1="1027.5" y1="880" x2="1027.5" y2="892"/>
<line x1="1052.5" y1="880" x2="1052.5" y2="892"/>
<line x1="1077.5" y1="880" x2="1077.5" y2="892"/>
<line x1="1102.5" y1="880" x2="1102.5" y2="892"/>
<line x1="1127.5" y1="880" x2="1127.5" y2="892"/>
<line x1="1152.5" y1="880" x2="1152.5" y2="892"/>
<line x1="1177.5" y1="880" x2="1177.5" y2="892"/>
<line x1="1202.5" y1="880" x2="1202.5" y2="892"/>
<line x1="1227.5" y1="880" x2="1227.5" y2="892"/>
<line x1="1252.5" y1="880" x2="1252.5" y2="892"/>
<line x1="1277.5" y1="880" x2="1277.5" y2="892"/>
<line x1="1302.5" y1="880" x2="1302.5" y2="892"/>
<line x1="1327.5" y1="880" x2="1327.5" y2="892"/>
<line x1="1352.5" y1="880" x2="1352.5" y2="892"/>
<line x1="1372.5" y1="880" x2="1372.5" y2="892"/>
<line x1="1397.5" y1="880" x2="1397.5" y2="892"/>
<line x1="1422.5" y1="880" x2="1422.5" y2="892"/>
<line x1="1447.5" y1="880" x2="1447.5" y2="892"/>
<line x1="1472.5" y1="880" x2="1472.5" y2="892"/>
<line x1="1497.5" y1="880" x2="1497.5" y2="892"/>
<line x1="1522.5" y1="880" x2="1522.5" y2="892"/>
<line x1="1547.5" y1="880" x2="1547.5" y2="892"/>
<line x1="1572.5" y1="880" x2="1572.5" y2="892"/>
<line x1="1597.5" y1="880" x2="1597.5" y2="892"/>
<line x1="1622.5" y1="880" x2="1622.5" y2="892"/>
<line x1="1647.5" y1="880" x2="1647.5" y2="892"/>
<line x1="1672.5" y1="880" x2="1672.5" y2="892"/>
<line x1="1697.5" y1="880" x2="1697.5" y2="892"/>
<line x1="1722.5" y1="880" x2="1722.5" y2="892"/>
<line x1="1747.5" y1="880" x2="1747.5" y2="892"/>
<line x1="1772.5" y1="880" x2="1772.5" y2="892"/>
<line x1="1797.5" y1="880" x2="1797.5" y2="892"/>
<line x1="1822.5" y1="880" x2="1822.5" y2="892"/>
<line x1="1846.5" y1="880" x2="1846.5" y2="892"/>
<line x1="62.5" y1="880" x2="62.5" y2="902"/>
<line x1="167.5" y1="880" x2="167.5" y2="902"/>
<line x1="272.5" y1="880" x2="272.5" y2="902"/>
<line x1="387.5" y1="880" x2="387.5" y2="902"/>
<line x1="492.5" y1="880" x2="492.5" y2="902"/>
<line x1="582.5" y1="880" x2="582.5" y2="902"/>
<line x1="692.5" y1="880" x2="692.5" y2="902"/>
<line x1="792.5" y1="880" x2="792.5" y2="902"/>
<line x1="897.5" y1="880" x2="897.5" y2="902"/>
<line x1="997.5" y1="880" x2="997.5" y2="902"/>
<line x1="1102.5" y1="880" x2="1102.5" y2="902"/>
<line x1="1207.5" y1="880" x2="1207.5" y2="902"/>
<line x1="1322.5" y1="880" x2="1322.5" y2="902"/>
<line x1="1422.5" y1="880" x2="1422.5" y2="902"/>
<line x1="1532.5" y1="880" x2="1532.5" y2="902"/>
<line x1="1647.5" y1="880" x2="1647.5" y2="902"/>
<line x1="1747.5" y1="880" x2="1747.5" y2="902"/>
<line x1="1856" y1="586.5" x2="1858" y2="586.5"/>
<line x1="1856" y1="581.5" x2="1858" y2="581.5"/>
<line x1="1856" y1="575.5" x2="1858" y2="575.5"/>
<line x1="1856" y1="570.5" x2="1858" y2="570.5"/>
<line x1="1856" y1="565.5" x2="1861" y2="565.5"/>
<line x1="1856" y1="560.5" x2="1858" y2="560.5"/>
<line x1="1856" y1="555.5" x2="1858" y2="555.5"/>
<line x1="1856" y1="549.5" x2="1858" y2="549.5"/>
<line x1="1856" y1="544.5" x2="1858" y2="544.5"/>
<line x1="1856" y1="539.5" x2="1861" y2="539.5"/>
<line x1="1856" y1="534.5" x2="1858" y2="534.5"/>
<line x1="1856" y1="528.5" x2="1858" y2="528.5"/>
<line x1="1856" y1="523.5" x2="1858" y2="523.5"/>
<line x1="1856" y1="518.5" x2="1858" y2="518.5"/>
<line x1="1856" y1="513.5" x2="1861" y2="513.5"/>
<line x1="1856" y1="508.5" x2="1858" y2="508.5"/>
<line x1="1856" y1="502.5" x2="1858" y2="502.5"/>
<line x1="1856" y1="497.5" x2="1858" y2="497.5"/>
<line x1="1856" y1="492.5" x2="1858" y2="492.5"/>
<line x1="1856" y1="487.5" x2="1861" y2="487.5"/>
<line x1="1856" y1="482.5" x2="1858" y2="482.5"/>
<line x1="1856" y1="476.5" x2="1858" y2="476.5"/>
<line x1="1856" y1="471.5" x2="1858" y2="471.5"/>
<line x1="1856" y1="466.5" x2="1858" y2="466.5"/>
<line x1="1856" y1="461.5" x2="1861" y2="461.5"/>
<line x1="1856" y1="456.5" x2="1858" y2="456.5"/>
<line x1="1856" y1="450.5" x2="1858" y2="450.5"/>
<line x1="1856" y1="445.5" x2="1858" y2="445.5"/>
<line x1="1856" y1="440.5" x2="1858" y2="440.5"/>
<line x1="1856" y1="435.5" x2="1861" y2="435.5"/>
<line x1="1856" y1="429.5" x2="1858" y2="429.5"/>
<line x1="1856" y1="424.5" x2="1858" y2="424.5"/>
<line x1="1856" y1="419.5" x2="1858" y2="419.5"/>
<line x1="1856" y1="414.5" x2="1858" y2="414.5"/>
<line x1="1856" y1="409.5" x2="1861" y2="409.5"/>
<line x1="1856" y1="403.5" x2="1858" y2="403.5"/>
<line x1="1856" y1="398.5" x2="1858" y2="398.5"/>
<line x1="1856" y1="393.5" x2="1858" y2="393.5"/>
<line x1="1856" y1="388.5" x2="1858" y2="388.5"/>
<line x1="1856" y1="383.5" x2="1861" y2="383.5"/>
<line x1="1856" y1="377.5" x2="1858" y2="377.5"/>
<line x1="1856" y1="372.5" x2="1858" y2="372.5"/>
<line x1="1856" y1="367.5" x2="1858" y2="367.5"/>
<line x1="1856" y1="362.5" x2="1858" y2="362.5"/>
<line x1="1856" y1="357.5" x2="1861" y2="357.5"/>
<line x1="1856" y1="351.5" x2="1858" y2="351.5"/>
<line x1="1856" y1="346.5" x2="1858" y2="346.5"/>
<line x1="1856" y1="341.5" x2="1858" y2="341.5"/>
<line x1="1856" y1="336.5" x2="1858" y2="336.5"/>
<line x1="1856" y1="331.5" x2="1861" y2="331.5"/>
<line x1="1856" y1="325.5" x2="1858" y2="325.5"/>
<line x1="1856" y1="320.5" x2="1858" y2="320.5"/>
<line x1="1856" y1="315.5" x2="1858" y2="315.5"/>
<line x1="1856" y1="310.5" x2="1858" y2="310.5"/>
<line x1="1856" y1="304.5" x2="1861" y2="304.5"/>
<line x1="1856" y1="299.5" x2="1858" y2="299.5"/>
<line x1="1856" y1="294.5" x2="1858" y2="294.5"/>
<line x1="1856" y1="289.5" x2="1858" y2="289.5"/>
<line x1="1856" y1="284.5" x2="1858" y2="284.5"/>
<line x1="1856" y1="278.5" x2="1861" y2="278.5"/>
<line x1="1856" y1="273.5" x2="1858" y2="273.5"/>
<line x1="1856" y1="268.5" x2="1858" y2="268.5"/>
<line x1="1856" y1="263.5" x2="1858" y2="263.5"/>
<line x1="1856" y1="258.5" x2="1858" y2="258.5"/>
<line x1="1856" y1="252.5" x2="1861" y2="252.5"/>
<line x1="1856" y1="247.5" x2="1858" y2="247.5"/>
<line x1="1856" y1="242.5" x2="1858" y2="242.5"/>
<line x1="1856" y1="237.5" x2="1858" y2="237.5"/>
<line x1="1856" y1="232.5" x2="1858" y2="232.5"/>
<line x1="1856" y1="226.5" x2="1861" y2="226.5"/>
<line x1="1856" y1="221.5" x2="1858" y2="221.5"/>
<line x1="1856" y1="216.5" x2="1858" y2="216.5"/>
<line x1="1856" y1="211.5" x2="1858" y2="211.5"/>
<line x1="1856" y1="205.5" x2="1858" y2="205.5"/>
<line x1="1856" y1="200.5" x2="1861" y2="200.5"/>
<line x1="1856" y1="195.5" x2="1858" y2="195.5"/>
<line x1="1856" y1="190.5" x2="1858" y2="190.5"/>
<line x1="1856" y1="185.5" x2="1858" y2="185.5"/>
<line x1="1856" y1="179.5" x2="1858" y2="179.5"/>
<line x1="1856" y1="174.5" x2="1861" y2="174.5"/>
<line x1="1856" y1="169.5" x2="1858" y2="169.5"/>
<line x1="1856" y1="164.5" x2="1858" y2="164.5"/>
<line x1="1856" y1="159.5" x2="1858" y2="159.5"/>
<line x1="1856" y1="153.5" x2="1858" y2="153.5"/>
<line x1="1856" y1="148.5" x2="1861" y2="148.5"/>
<line x1="1856" y1="143.5" x2="1858" y2="143.5"/>
<line x1="1856" y1="138.5" x2="1858" y2="138.5"/>
<line x1="1856" y1="133.5" x2="1858" y2="133.5"/>
<line x1="1856" y1="127.5" x2="1858" y2="127.5"/>
<line x1="1856" y1="122.5" x2="1861" y2="122.5"/>
<line x1="1856" y1="117.5" x2="1858" y2="117.5"/>
<line x1="1856" y1="112.5" x2="1858" y2="112.5"/>
<line x1="1856" y1="106.5" x2="1858" y2="106.5"/>
<line x1="1856" y1="101.5" x2="1858" y2="101.5"/>
<line x1="1856" y1="96.5" x2="1861" y2="96.5"/>
<line x1="1856" y1="91.5" x2="1858" y2="91.5"/>
<line x1="1856" y1="86.5" x2="1858" y2="86.5"/>
<line x1="1856" y1="80.5" x2="1858" y2="80.5"/>
<line x1="1856" y1="75.5" x2="1858" y2="75.5"/>
<line x1="1856" y1="70.5" x2="1861" y2="70.5"/>
<line x1="1856" y1="65.5" x2="1858" y2="65.5"/>
<line x1="1856" y1="60.5" x2="1858" y2="60.5"/>
<line x1="1856" y1="54.5" x2="1858" y2="54.5"/>
<line x1="1856" y1="49.5" x2="1858" y2="49.5"/>
<line x1="1856" y1="44.5" x2="1861" y2="44.5"/>
<line x1="1856" y1="39.5" x2="1858" y2="39.5"/>
<line x1="1856" y1="34.5" x2="1858" y2="34.5"/>
<line x1="1856" y1="28.5" x2="1858" y2="28.5"/>
<line x1="1856" y1="23.5" x2="1858" y2="23.5"/>
<line x1="1856" y1="18.5" x2="1861" y2="18.5"/>
<line x1="1856" y1="13.5" x2="1858" y2="13.5"/>
<line x1="1856" y1="7.5" x2="1858" y2="7.5"/>
<line x1="1856" y1="2.5" x2="1858" y2="2.5"/>
<line x1="1856" y1="874.5" x2="1858" y2="874.5"/>
<line x1="1856" y1="868.5" x2="1861" y2="868.5"/>
<line x1="1856" y1="861.5" x2="1858" y2="861.5"/>
<line x1="1856" y1="854.5" x2="1861" y2="854.5"/>
<line x1="1856" y1="848.5" x2="1858" y2="848.5"/>
<line x1="1856" y1="841.5" x2="1861" y2="841.5"/>
<line x1="1856" y1="834.5" x2="1858" y2="834.5"/>
<line x1="1856" y1="827.5" x2="1861" y2="827.5"/>
<line x1="1856" y1="821.5" x2="1858" y2="821.5"/>
<line x1="1856" y1="814.5" x2="1861" y2="814.5"/>
<line x1="1856" y1="807.5" x2="1858" y2="807.5"/>
<line x1="1856" y1="801.5" x2="1861" y2="801.5"/>
<line x1="1856" y1="794.5" x2="1858" y2="794.5"/>
<line x1="1856" y1="787.5" x2="1861" y2="787.5"/>
<line x1="1856" y1="781.5" x2="1858" y2="781.5"/>
<line x1="1856" y1="774.5" x2="1861" y2="774.5"/>
<line x1="1856" y1="767.5" x2="1858" y2="767.5"/>
<line x1="1856" y1="760.5" x2="1861" y2="760.5"/>
<line x1="1856" y1="754.5" x2="1858" y2="754.5"/>
<line x1="1856" y1="747.5" x2="1861" y2="747.5"/>
<line x1="1856" y1="740.5" x2="1858" y2="740.5"/>
<line x1="1856" y1="734.5" x2="1861" y2="734.5"/>
<line x1="1856" y1="727.5" x2="1858" y2="727.5"/>
<line x1="1856" y1="720.5" x2="1861" y2="720.5"/>
<line x1="1856" y1="714.5" x2="1858" y2="714.5"/>
<line x1="1856" y1="707.5" x2="1861" y2="707.5"/>
<line x1="1856" y1="700.5" x2="1858" y2="700.5"/>
<line x1="1856" y1="693.5" x2="1861" y2="693.5"/>
<line x1="1856" y1="687.5" x2="1858" y2="687.5"/>
<line x1="1856" y1="680.5" x2="1861" y2="680.5"/>
<line x1="1856" y1="673.5" x2="1858" y2="673.5"/>
<line x1="1856" y1="667.5" x2="1861" y2="667.5"/>
<line x1="1856" y1="660.5" x2="1858" y2="660.5"/>
<line x1="1856" y1="653.5" x2="1861" y2="653.5"/>
<line x1="1856" y1="647.5" x2="1858" y2="647.5"/>
<line x1="1856" y1="640.5" x2="1861" y2="640.5"/>
<line x1="1856" y1="633.5" x2="1858" y2="633.5"/>
<line x1="1856" y1="626.5" x2="1861" y2="626.5"/>
<line x1="1856" y1="620.5" x2="1858" y2="620.5"/>
<line x1="1856" y1="613.5" x2="1861" y2="613.5"/>
<line x1="1856" y1="606.5" x2="1858" y2="606.5"/>
<line x1="1856" y1="600.5" x2="1861" y2="600.5"/>
<line x1="1856" y1="593.5" x2="1858" y2="593.5"/>
<path d="M1856.5 880V872.5H1873.5V880" fill="none"/>
</g>
<g font-family="Liberation Sans, sans-serif" font-size="8px" fill="#222" letter-spacing="0.55">
<text x="1888" y="568.9" text-anchor="end">15.5</text>
<text x="1888" y="542.8" text-anchor="end">16.0</text>
<text x="1888" y="516.8" text-anchor="end">16.5</text>
<text x="1888" y="490.7" text-anchor="end">17.0</text>
<text x="1888" y="464.6" text-anchor="end">17.5</text>
<text x="1888" y="438.6" text-anchor="end">18.0</text>
<text x="1888" y="412.5" text-anchor="end">18.5</text>
<text x="1888" y="386.5" text-anchor="end">19.0</text>
<text x="1888" y="360.4" text-anchor="end">19.5</text>
<text x="1888" y="334.4" text-anchor="end">20.0</text>
<text x="1888" y="308.3" text-anchor="end">20.5</text>
<text x="1888" y="282.3" text-anchor="end">21.0</text>
<text x="1888" y="256.2" text-anchor="end">21.5</text>
<text x="1888" y="230.2" text-anchor="end">22.0</text>
<text x="1888" y="204.2" text-anchor="end">22.5</text>
<text x="1888" y="178.1" text-anchor="end">23.0</text>
<text x="1888" y="152.1" text-anchor="end">23.5</text>
<text x="1888" y="126.0" text-anchor="end">24.0</text>
<text x="1888" y="100.0" text-anchor="end">24.5</text>
<text x="1888" y="73.9" text-anchor="end">25.0</text>
<text x="1888" y="47.9" text-anchor="end">25.5</text>
<text x="1888" y="21.8" text-anchor="end">26.0</text>
<text x="1888" y="870.6" text-anchor="end">1000</text>
<text x="1888" y="857.2" text-anchor="end">2000</text>
<text x="1888" y="843.8" text-anchor="end">3000</text>
<text x="1888" y="830.4" text-anchor="end">4000</text>
<text x="1888" y="817.0" text-anchor="end">5000</text>
<text x="1888" y="803.6" text-anchor="end">6000</text>
<text x="1888" y="790.2" text-anchor="end">7000</text>
<text x="1888" y="776.8" text-anchor="end">8000</text>
<text x="1888" y="763.4" text-anchor="end">9000</text>
<text x="1888" y="750.0" text-anchor="end">10000</text>
<text x="1888" y="736.6" text-anchor="end">11000</text>
<text x="1888" y="723.2" text-anchor="end">12000</text>
<text x="1888" y="709.8" text-anchor="end">13000</text>
<text x="1888" y="696.4" text-anchor="end">14000</text>
<text x="1888" y="683.0" text-anchor="end">15000</text>
<text x="1888" y="669.6" text-anchor="end">16000</text>
<text x="1888" y="656.2" text-anchor="end">17000</text>
<text x="1888" y="642.8" text-anchor="end">18000</text>
<text x="1888" y="629.4" text-anchor="end">19000</text>
<text x="1888" y="616.0" text-anchor="end">20000</text>
<text x="1888" y="602.6" text-anchor="end">21000</text>
<text x="-1.5" y="889" clip-path="url(#cl)">15</text>
<text x="23.5" y="889" clip-path="url(#cl)">22</text>
<text x="48.5" y="889" clip-path="url(#cl)">29</text>
<text x="73.5" y="889" clip-path="url(#cl)">5</text>
<text x="98.5" y="889" clip-path="url(#cl)">12</text>
<text x="118.5" y="889" clip-path="url(#cl)">19</text>
<text x="143.5" y="889" clip-path="url(#cl)">26</text>
<text x="168.5" y="889" clip-path="url(#cl)">2</text>
<text x="193.5" y="889" clip-path="url(#cl)">9</text>
<text x="218.5" y="889" clip-path="url(#cl)">16</text>
<text x="243.5" y="889" clip-path="url(#cl)">23</text>
<text x="268.5" y="889" clip-path="url(#cl)">30</text>
<text x="293.5" y="889" clip-path="url(#cl)">7</text>
<text x="318.5" y="889" clip-path="url(#cl)">14</text>
<text x="343.5" y="889" clip-path="url(#cl)">21</text>
<text x="368.5" y="889" clip-path="url(#cl)">28</text>
<text x="393.5" y="889" clip-path="url(#cl)">4</text>
<text x="418.5" y="889" clip-path="url(#cl)">11</text>
<text x="443.5" y="889" clip-path="url(#cl)">18</text>
<text x="468.5" y="889" clip-path="url(#cl)">25</text>
<text x="493.5" y="889" clip-path="url(#cl)">2</text>
<text x="518.5" y="889" clip-path="url(#cl)">9</text>
<text x="543.5" y="889" clip-path="url(#cl)">16</text>
<text x="568.5" y="889" clip-path="url(#cl)">23</text>
<text x="593.5" y="889" clip-path="url(#cl)">6</text>
<text x="618.5" y="889" clip-path="url(#cl)">13</text>
<text x="643.5" y="889" clip-path="url(#cl)">20</text>
<text x="668.5" y="889" clip-path="url(#cl)">27</text>
<text x="693.5" y="889" clip-path="url(#cl)">3</text>
<text x="718.5" y="889" clip-path="url(#cl)">10</text>
<text x="743.5" y="889" clip-path="url(#cl)">17</text>
<text x="768.5" y="889" clip-path="url(#cl)">24</text>
<text x="793.5" y="889" clip-path="url(#cl)">3</text>
<text x="818.5" y="889" clip-path="url(#cl)">10</text>
<text x="843.5" y="889" clip-path="url(#cl)">17</text>
<text x="868.5" y="889" clip-path="url(#cl)">24</text>
<text x="893.5" y="889" clip-path="url(#cl)">31</text>
<text x="918.5" y="889" clip-path="url(#cl)">7</text>
<text x="943.5" y="889" clip-path="url(#cl)">14</text>
<text x="963.5" y="889" clip-path="url(#cl)">22</text>
<text x="983.5" y="889" clip-path="url(#cl)">28</text>
<text x="1003.5" y="889" clip-path="url(#cl)">5</text>
<text x="1028.5" y="889" clip-path="url(#cl)">12</text>
<text x="1053.5" y="889" clip-path="url(#cl)">19</text>
<text x="1078.5" y="889" clip-path="url(#cl)">26</text>
<text x="1103.5" y="889" clip-path="url(#cl)">2</text>
<text x="1128.5" y="889" clip-path="url(#cl)">9</text>
<text x="1153.5" y="889" clip-path="url(#cl)">16</text>
<text x="1178.5" y="889" clip-path="url(#cl)">23</text>
<text x="1203.5" y="889" clip-path="url(#cl)">30</text>
<text x="1228.5" y="889" clip-path="url(#cl)">7</text>
<text x="1253.5" y="889" clip-path="url(#cl)">14</text>
<text x="1278.5" y="889" clip-path="url(#cl)">21</text>
<text x="1303.5" y="889" clip-path="url(#cl)">28</text>
<text x="1328.5" y="889" clip-path="url(#cl)">4</text>
<text x="1353.5" y="889" clip-path="url(#cl)">11</text>
<text x="1373.5" y="889" clip-path="url(#cl)">18</text>
<text x="1398.5" y="889" clip-path="url(#cl)">25</text>
<text x="1423.5" y="889" clip-path="url(#cl)">1</text>
<text x="1448.5" y="889" clip-path="url(#cl)">8</text>
<text x="1473.5" y="889" clip-path="url(#cl)">15</text>
<text x="1498.5" y="889" clip-path="url(#cl)">22</text>
<text x="1523.5" y="889" clip-path="url(#cl)">29</text>
<text x="1548.5" y="889" clip-path="url(#cl)">6</text>
<text x="1573.5" y="889" clip-path="url(#cl)">13</text>
<text x="1598.5" y="889" clip-path="url(#cl)">20</text>
<text x="1623.5" y="889" clip-path="url(#cl)">27</text>
<text x="1648.5" y="889" clip-path="url(#cl)">3</text>
<text x="1673.5" y="889" clip-path="url(#cl)">10</text>
<text x="1698.5" y="889" clip-path="url(#cl)">17</text>
<text x="1723.5" y="889" clip-path="url(#cl)">24</text>
<text x="1748.5" y="889" clip-path="url(#cl)">1</text>
<text x="1773.5" y="889" clip-path="url(#cl)">8</text>
<text x="1798.5" y="889" clip-path="url(#cl)">15</text>
<text x="1823.5" y="889" clip-path="url(#cl)">22</text>
<text x="1847.5" y="889" clip-path="url(#cl)">29</text>
<text x="63.5" y="900" letter-spacing="0.3">August</text>
<text x="168.5" y="900" letter-spacing="0.3">September</text>
<text x="273.5" y="900" letter-spacing="0.3">October</text>
<text x="388.5" y="900" letter-spacing="0.3">November</text>
<text x="493.5" y="900" letter-spacing="0.3">December</text>
<text x="583.5" y="900" letter-spacing="0.3">2025</text>
<text x="693.5" y="900" letter-spacing="0.3">February</text>
<text x="793.5" y="900" letter-spacing="0.3">March</text>
<text x="898.5" y="900" letter-spacing="0.3">April</text>
<text x="998.5" y="900" letter-spacing="0.3">May</text>
<text x="1103.5" y="900" letter-spacing="0.3">June</text>
<text x="1208.5" y="900" letter-spacing="0.3">July</text>
<text x="1323.5" y="900" letter-spacing="0.3">August</text>
<text x="1423.5" y="900" letter-spacing="0.3">September</text>
<text x="1533.5" y="900" letter-spacing="0.3">October</text>
<text x="1648.5" y="900" letter-spacing="0.3">November</text>
<text x="1748.5" y="900" letter-spacing="0.3">December</text>
</g>
<text x="1858" y="878.5" font-family="Liberation Sans, sans-serif" font-size="5.5px" fill="#444">x100</text>
</svg>
<div id="title">ERG (21.5800, 21.8000, 21.4800, 21.6200, +0.04000)</div>
<div id="copy"><span id="cs">COPYRIGHT@ LABORSADEIPICCOLI.COM</span></div>
<div id="note"><div id="nw"><span id="l1">Erg ha tenuto i 21,20 e prova a venire su ma non conferma</span><br><span id="l2">la forza sopra i 21,7. Volumi in aumento e se dovesse</span><br><span id="l3">mancare anche domani il superamento tornerà ad essere</span><br><span id="l4">pericolosa mettendo a rischio i 21,10 come ultimo supporto.</span></div></div>
</body></html>
